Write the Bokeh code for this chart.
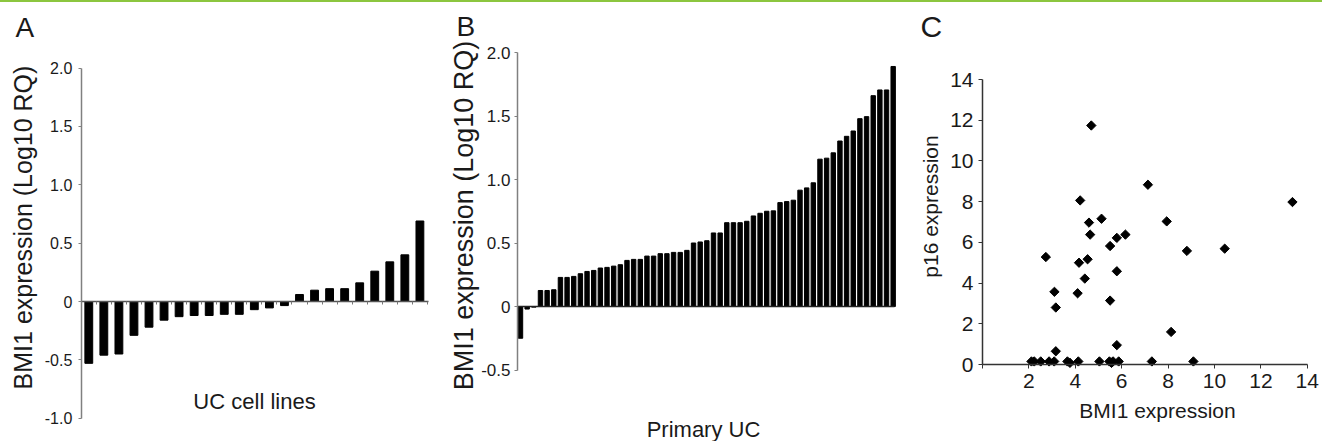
import math
from bokeh.plotting import figure
from bokeh.layouts import row, column
from bokeh.models import Label, FixedTicker, Range1d, Div
from bokeh.embed import file_html
from bokeh.resources import INLINE

# ---------------- data ----------------
# Panel A: UC cell lines, BMI1 expression (Log10 RQ)
a_values = [-0.53, -0.46, -0.45, -0.29, -0.22, -0.16, -0.13, -0.12, -0.12, -0.11,
            -0.11, -0.07, -0.055, -0.035, 0.06, 0.097, 0.11, 0.11, 0.16, 0.26,
            0.34, 0.40, 0.69]
# Panel B: primary UC, BMI1 expression (Log10 RQ)
b_values = [-0.25, -0.02, -0.005, 0.126, 0.126, 0.132, 0.229, 0.229, 0.237, 0.258,
            0.276, 0.284, 0.303, 0.308, 0.318, 0.329, 0.363, 0.371, 0.371, 0.397,
            0.397, 0.416, 0.416, 0.426, 0.426, 0.442, 0.50, 0.508, 0.518, 0.579,
            0.579, 0.66, 0.66, 0.66, 0.671, 0.713, 0.734, 0.75, 0.753, 0.818,
            0.826, 0.837, 0.916, 0.934, 0.974, 1.16, 1.168, 1.21, 1.303, 1.34,
            1.382, 1.479, 1.495, 1.66, 1.705, 1.705, 1.89]
# Panel C: scatter BMI1 vs p16
c_bmi1 = [4.69, 7.13, 13.36, 4.21, 5.13, 7.94, 4.59, 4.64, 6.16, 5.79,
          5.50, 8.81, 10.44, 2.73, 4.53, 4.16, 5.79, 4.41, 3.10, 4.10,
          5.50, 3.16, 8.13, 5.79, 3.16, 2.11, 2.23, 2.51, 2.87, 3.09,
          3.66, 3.77, 4.13, 5.04, 5.47, 5.56, 5.63, 5.87, 7.30, 9.09]
c_p16 = [11.74, 8.83, 7.98, 8.06, 7.16, 7.03, 6.97, 6.38, 6.38, 6.22,
         5.82, 5.58, 5.69, 5.28, 5.17, 5.00, 4.58, 4.22, 3.57, 3.50,
         3.14, 2.80, 1.60, 0.95, 0.65, 0.15, 0.15, 0.15, 0.15, 0.15,
         0.15, 0.08, 0.15, 0.15, 0.15, 0.08, 0.15, 0.15, 0.15, 0.15]

a_ticks = [-1.0, -0.5, 0, 0.5, 1.0, 1.5, 2.0]
a_tick_labels = ["-1.0", "-0.5", "0", "0.5", "1.0", "1.5", "2.0"]
b_ticks = [-0.5, 0, 0.5, 1.0, 1.5, 2.0]
b_tick_labels = ["-0.5", "0", "0.5", "1.0", "1.5", "2.0"]
c_ticks = [0, 2, 4, 6, 8, 10, 12, 14]
c_y_tick_labels = ["0", "2", "4", "6", "8", "10", "12", "14"]
c_x_tick_labels = ["", "2", "4", "6", "8", "10", "12", "14"]

y_title = "BMI1 expression (Log10 RQ)"
a_x_title = "UC cell lines"
b_x_title = "Primary UC"
c_x_title = "BMI1 expression"
c_y_title = "p16 expression"

FONT = "Liberation Sans"
AXIS_GRAY = "#808080"
TXT = "#1a1a1a"
RULE_H = 2
FIG_TOP = RULE_H   # page y of figure tops (below the green rule)
FIG_H = 439


class Panel:
    """pixel anchors (page coords) -> data ranges, frame = whole figure"""
    def __init__(self, left, width, x0px, sx, y0px, sy):
        self.left, self.width = left, width
        self.x0px, self.sx, self.y0px, self.sy = x0px, sx, y0px, sy

    def xr(self):
        return Range1d(-(self.x0px - self.left) / self.sx,
                       (self.left + self.width - self.x0px) / self.sx)

    def yr(self):
        return Range1d(-(FIG_TOP + FIG_H - self.y0px) / self.sy,
                       (self.y0px - FIG_TOP) / self.sy)

    def dx(self, px):
        return (px - self.x0px) / self.sx

    def dy(self, py):
        return (self.y0px - py) / self.sy


def make_fig(g):
    p = figure(width=g.width, height=FIG_H, x_range=g.xr(), y_range=g.yr(),
               toolbar_location=None, output_backend="svg",
               min_border_left=0, min_border_right=0,
               min_border_top=0, min_border_bottom=0)
    p.grid.visible = False
    p.outline_line_color = None
    p.background_fill_color = "white"
    p.border_fill_color = "white"
    p.axis.minor_tick_line_color = None
    p.axis.major_label_text_font = FONT
    p.axis.major_label_text_color = TXT
    return p


def text(p, x, y, txt, size, align="center", baseline="middle", angle=0.0):
    p.add_layout(Label(x=x, y=y, text=txt, text_font=FONT, text_font_size=size,
                       text_color=TXT, text_align=align, text_baseline=baseline,
                       angle=angle))


# ---------------- top green rule ----------------
rule = Div(text="", width=1322, height=RULE_H, margin=0,
           styles={"background-color": "#8cc63f"})

# ---------------- Panel A ----------------
gA = Panel(0, 440, 88.3, 15.05, 301.0, 116.67)
na = len(a_values)
pA = make_fig(gA)
pA.vbar(x=list(range(na)), top=a_values, bottom=0, width=0.52,
        fill_color="black", line_color="black")
pA.yaxis.fixed_location = -0.5
pA.yaxis.bounds = (-1.0, 2.0)
pA.yaxis.ticker = FixedTicker(ticks=a_ticks)
pA.yaxis.major_label_overrides = dict(zip(a_ticks, a_tick_labels))
pA.yaxis.major_label_text_font_size = "16px"
pA.yaxis.axis_line_color = AXIS_GRAY
pA.yaxis.axis_line_width = 1.5
pA.yaxis.major_tick_line_color = AXIS_GRAY
pA.yaxis.major_tick_out = 3
pA.yaxis.major_tick_in = 0
pA.yaxis.major_label_standoff = 6
a_sep = [i + 0.5 for i in range(na)]
pA.xaxis.fixed_location = 0
pA.xaxis.bounds = (-0.5, 22.57)
pA.xaxis.ticker = FixedTicker(ticks=a_sep)
pA.xaxis.major_label_overrides = {t: "" for t in a_sep}
pA.xaxis.major_label_text_font_size = "0px"
pA.xaxis.axis_line_color = "#555555"
pA.xaxis.axis_line_width = 1.5
pA.xaxis.major_tick_line_color = "#777777"
pA.xaxis.major_tick_out = 3
pA.xaxis.major_tick_in = 0
text(pA, gA.dx(22), gA.dy(227), y_title, "25px", angle=math.pi / 2)
text(pA, gA.dx(254), gA.dy(401), a_x_title, "22px")
text(pA, gA.dx(15), gA.dy(27), "A", "28px", align="left", baseline="alphabetic")

# ---------------- Panel B ----------------
gB = Panel(440, 474, 520.0, 6.655, 306.0, 127.0)
nb = len(b_values)
pB = make_fig(gB)
pB.vbar(x=list(range(nb)), top=b_values, bottom=0, width=0.66,
        fill_color="black", line_color="black")
pB.yaxis.fixed_location = gB.dx(517)
pB.yaxis.bounds = (-0.5, 2.0)
pB.yaxis.ticker = FixedTicker(ticks=b_ticks)
pB.yaxis.major_label_overrides = dict(zip(b_ticks, b_tick_labels))
pB.yaxis.major_label_text_font_size = "17px"
pB.yaxis.axis_line_color = AXIS_GRAY
pB.yaxis.axis_line_width = 1.5
pB.yaxis.major_tick_line_color = AXIS_GRAY
pB.yaxis.major_tick_out = 3
pB.yaxis.major_tick_in = 0
pB.yaxis.major_label_standoff = 4
pB.xaxis.fixed_location = 0
pB.xaxis.bounds = (gB.dx(517), gB.dx(894))
pB.xaxis.ticker = FixedTicker(ticks=[])
pB.xaxis.axis_line_color = "#222222"
pB.xaxis.axis_line_width = 1.5
pB.xaxis.major_tick_line_color = None
text(pB, gB.dx(463.5), gB.dy(215), y_title, "27px", angle=math.pi / 2)
text(pB, gB.dx(703), gB.dy(429), b_x_title, "22px")
text(pB, gB.dx(456), gB.dy(26), "B", "28px", align="left", baseline="alphabetic")

# ---------------- Panel C ----------------
gC = Panel(914, 408, 982.0, 23.2, 364.0, 20.357)
pC = make_fig(gC)
pC.scatter(x=c_bmi1, y=c_p16, marker="square", angle=math.pi / 4, size=6.6,
           fill_color="black", line_color="black")
pC.xaxis.fixed_location = 0
pC.yaxis.fixed_location = 0
pC.axis.bounds = (0, 14)
pC.axis.ticker = FixedTicker(ticks=c_ticks)
pC.yaxis.major_label_overrides = dict(zip(c_ticks, c_y_tick_labels))
pC.xaxis.major_label_overrides = dict(zip(c_ticks, c_x_tick_labels))
pC.axis.major_label_text_font_size = "21px"
pC.axis.axis_line_color = "#333333"
pC.axis.axis_line_width = 1.5
pC.axis.major_tick_line_color = "#333333"
pC.axis.major_tick_out = 4
pC.axis.major_tick_in = 0
pC.yaxis.major_label_standoff = 5
pC.xaxis.major_label_standoff = 5
text(pC, gC.dx(930), gC.dy(206), c_y_title, "21px", angle=math.pi / 2)
text(pC, gC.dx(1157), gC.dy(410), c_x_title, "21px")
text(pC, gC.dx(920), gC.dy(26), "C", "30px", align="left", baseline="alphabetic")

layout = column(rule, row(pA, pB, pC))
with open("out.html", "w") as f:
    f.write(file_html(layout, INLINE))
